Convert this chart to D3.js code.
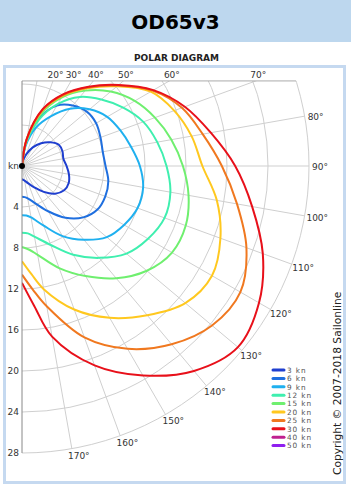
<!DOCTYPE html>
<html>
<head>
<meta charset="utf-8">
<script src="https://cdnjs.cloudflare.com/ajax/libs/d3/7.8.5/d3.min.js"></script>
<style>
  body { margin: 0; background: #fff; font-family: "DejaVu Sans", Verdana, sans-serif; }
</style>
</head>
<body>
<svg id="svg-polar"></svg>
<script>
var width = 351,
    height = 487,
    cx = 22,
    cy = 166,
    R = 287,
    topKn = 8.3;

// wind speeds + legend colours
var winds = [3, 6, 9, 12, 15, 20, 25, 30, 40, 50];
var windColors = ['#1f3fcf', '#1f6fdf', '#1fb0ef', '#3fefaf', '#6fef6f', '#ffc81f', '#f0781f', '#e8101a', '#c0208f', '#8f1fef'];

// true wind angles
var twa = [0, 10, 20, 30, 40, 50, 60, 70, 80, 90, 100, 110, 120, 130, 140, 150, 160, 170, 175, 180];

// boat speed (kn) for each wind
var s3  = [0, 0.5, 1.2, 2.1, 2.9, 3.6, 4.15, 4.2, 4.1, 4.35, 4.65, 4.85, 4.75, 4.2, 3.3, 2.4, 1.8, 1.45, 1.35, 1.3];
var s6  = [0, 2.3, 5.0, 6.8, 7.7, 8.25, 8.35, 8.15, 8.0, 8.15, 8.55, 8.65, 8.5, 7.8, 6.6, 5.1, 3.9, 3.2, 3.05, 3.0];
var s9  = [0, 2.0, 4.0, 5.6, 7.3, 8.6, 9.6, 10.2, 10.8, 11.5, 12.0, 12.0, 11.5, 10.8, 9.4, 7.9, 6.2, 5.1, 4.85, 4.8];
var s12 = [0, 2.3, 4.8, 7.0, 8.8, 10.1, 11.4, 12.6, 13.4, 14.1, 14.7, 14.8, 14.2, 13.3, 11.7, 10.0, 8.2, 7.0, 6.6, 6.5];
var s15 = [0, 2.5, 5.4, 7.7, 9.6, 11.3, 12.7, 13.8, 14.8, 15.7, 16.5, 17.0, 16.9, 15.9, 14.3, 12.4, 10.6, 8.8, 8.2, 7.9];
var s20 = [0, 2.6, 5.7, 7.9, 9.9, 12.1, 14.5, 15.8, 16.8, 17.6, 19.3, 20.6, 21.4, 20.8, 19.0, 17.1, 14.9, 12.2, 10.6, 9.3];
var s25 = [0, 2.7, 5.8, 8.0, 10.0, 12.2, 14.7, 16.6, 17.9, 19.5, 21.3, 23.3, 24.6, 24.2, 22.7, 20.6, 17.8, 13.9, 12.1, 10.6];
var s30 = [0, 2.7, 5.9, 8.1, 10.1, 12.3, 14.8, 16.9, 18.7, 20.8, 22.8, 25.0, 26.7, 27.5, 26.1, 23.6, 20.7, 16.9, 13.7, 11.4];

var series = [s3, s6, s9, s12, s15, s20, s25, s30];

var speedTicks = [4, 8, 12, 16, 20, 24, 28];
var gridAngles = d3.range(10, 180, 10);
var labelAngles = d3.range(20, 180, 10);

var r = d3.scaleLinear().domain([0, 28]).range([0, R]);
var yTop = cy - r(topKn);
var rad = function(a) { return a * Math.PI / 180; };

var svg = d3.select('#svg-polar')
  .attr('width', width)
  .attr('height', height);

// header
svg.append('rect').attr('x', 0).attr('y', 0).attr('width', width).attr('height', 42).attr('fill', '#bdd7ee');
svg.append('text').attr('x', width / 2).attr('y', 29).attr('text-anchor', 'middle')
  .attr('font-size', 20).attr('font-weight', 'bold').attr('fill', '#000').text('OD65v3');
svg.append('text').attr('x', width / 2 + 1).attr('y', 61).attr('text-anchor', 'middle')
  .attr('font-size', 9).attr('font-weight', 'bold').attr('fill', '#222').text('POLAR DIAGRAM');

// chart frame
svg.append('rect').attr('x', 4.5).attr('y', 66.5).attr('width', 340).attr('height', 416)
  .attr('fill', '#fff').attr('stroke', '#c5d9f0').attr('stroke-width', 3);

svg.append('clipPath').attr('id', 'plot-clip')
  .append('rect').attr('x', cx).attr('y', yTop).attr('width', R + 2).attr('height', cy + R - yTop + 2);

var g = svg.append('g').attr('clip-path', 'url(#plot-clip)');

// speed circles
g.selectAll('.ring')
  .data(speedTicks)
  .enter().append('circle')
  .attr('cx', cx).attr('cy', cy)
  .attr('r', function(d) { return r(d); })
  .attr('fill', 'none')
  .attr('stroke', '#cfcfcf')
  .attr('stroke-width', 1);

// angle spokes
g.selectAll('.spoke')
  .data(gridAngles)
  .enter().append('line')
  .attr('x1', cx).attr('y1', cy)
  .attr('x2', function(d) { return cx + R * Math.sin(rad(d)); })
  .attr('y2', function(d) { return cy - R * Math.cos(rad(d)); })
  .attr('stroke', '#cfcfcf')
  .attr('stroke-width', 1);

// top edge and vertical axis
var topEnd = cx + Math.sqrt(R * R - (cy - yTop) * (cy - yTop));
svg.append('line').attr('x1', cx).attr('y1', yTop).attr('x2', topEnd).attr('y2', yTop)
  .attr('stroke', '#aaa').attr('stroke-width', 1);
svg.append('line').attr('x1', cx).attr('y1', yTop).attr('x2', cx).attr('y2', cy + R)
  .attr('stroke', '#888').attr('stroke-width', 1);

// polar curves
var line = d3.lineRadial()
  .angle(function(d) { return rad(d[0]); })
  .radius(function(d) { return r(d[1]); })
  .curve(d3.curveCatmullRom.alpha(0.5));

g.append('g')
  .attr('transform', 'translate(' + cx + ',' + cy + ')')
  .selectAll('path')
  .data(series)
  .enter().append('path')
  .attr('d', function(d) { return line(d3.zip(twa, d)); })
  .attr('fill', 'none')
  .attr('stroke', function(d, i) { return windColors[i]; })
  .attr('stroke-width', 2);

// speed labels
svg.selectAll('.spd')
  .data(speedTicks)
  .enter().append('text')
  .attr('x', cx - 3)
  .attr('y', function(d) { return cy + r(d) + 3; })
  .attr('text-anchor', 'end')
  .attr('font-size', 9)
  .attr('fill', '#333')
  .text(function(d) { return d; });

svg.append('text').attr('x', cx - 3).attr('y', cy + 3).attr('text-anchor', 'end')
  .attr('font-size', 9).attr('fill', '#333').text('kn');
svg.append('circle').attr('cx', cx).attr('cy', cy).attr('r', 3).attr('fill', '#000');

// angle labels
svg.selectAll('.ang')
  .data(labelAngles)
  .enter().append('text')
  .attr('font-size', 9)
  .attr('fill', '#333')
  .each(function(d) {
    var t = d3.select(this);
    var a = rad(d);
    var xt = cx + (cy - yTop) * Math.tan(a);
    if (d < 90 && xt <= topEnd) {
      t.attr('x', xt + 2.5).attr('y', yTop - 3).attr('text-anchor', 'middle');
    } else {
      var px = cx + R * Math.sin(a), py = cy - R * Math.cos(a);
      var dx = d <= 90 ? 3 : 3 + 7 * Math.cos(a);
      var dy = d <= 90 ? 1 : 1 - 6 * Math.cos(a);
      t.attr('x', px + dx).attr('y', py + dy + 3.3).attr('text-anchor', 'start');
    }
  })
  .text(function(d) { return d + '°'; });

// legend
var leg = svg.append('g').attr('transform', 'translate(272,370)');
var item = leg.selectAll('g')
  .data(winds)
  .enter().append('g')
  .attr('transform', function(d, i) { return 'translate(0,' + (i * 8.4) + ')'; });
item.append('line')
  .attr('x1', 1).attr('x2', 12).attr('y1', 0).attr('y2', 0)
  .attr('stroke', function(d, i) { return windColors[i]; })
  .attr('stroke-width', 3)
  .attr('stroke-linecap', 'round');
item.append('text')
  .attr('x', 15).attr('y', 2.7)
  .attr('font-size', 7.3)
  .attr('letter-spacing', 0.9)
  .attr('fill', '#555')
  .text(function(d) { return d + ' kn'; });

// copyright
svg.append('text')
  .attr('transform', 'translate(341,475) rotate(-90)')
  .attr('font-size', 10.7)
  .attr('fill', '#222')
  .text('Copyright © 2007-2018 Sailonline');
</script>
</body>
</html>
